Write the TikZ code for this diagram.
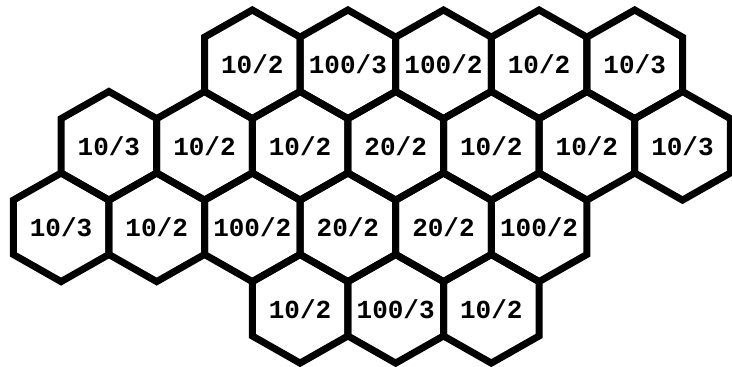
\documentclass[tikz,border=0pt]{standalone}
\usepackage{fontspec}
\setmonofont{Liberation Mono}
\begin{document}
\begin{tikzpicture}[x=1pt,y=-1pt,
  hexline/.style={draw=black,line width=7pt,line join=miter},
  lbl/.style={font=\ttfamily\bfseries\fontsize{26}{29}\selectfont,inner sep=0pt}]
\useasboundingbox[fill=white] (0,0) rectangle (732,367);
\def\ha{47.8}\def\hv{54.3}\def\hs{27.15}
\foreach \k/\r/\t/\n in {
  4/0/10\slash 2/a1, 6/0/100\slash 3/a2, 8/0/100\slash 2/a3, 10/0/10\slash 2/a4, 12/0/10\slash 3/a5,
  1/1/10\slash 3/b1, 3/1/10\slash 2/b2, 5/1/10\slash 2/b3, 7/1/20\slash 2/b4, 9/1/10\slash 2/b5, 11/1/10\slash 2/b6, 13/1/10\slash 3/b7,
  0/2/10\slash 3/c1, 2/2/10\slash 2/c2, 4/2/100\slash 2/c3, 6/2/20\slash 2/c4, 8/2/20\slash 2/c5, 10/2/100\slash 2/c6,
  5/3/10\slash 2/d1, 7/3/100\slash 3/d2, 9/3/10\slash 2/d3}{
  \pgfmathsetmacro\cx{61.1+47.8*\k}
  \pgfmathsetmacro\cy{64.3+81.5*\r}
  \draw[hexline] (\cx,\cy-\hv) -- (\cx+\ha,\cy-\hs) -- (\cx+\ha,\cy+\hs) -- (\cx,\cy+\hv)
     -- (\cx-\ha,\cy+\hs) -- (\cx-\ha,\cy-\hs) -- cycle;
  \node[lbl] (\n) at (\cx,\cy) {\t};
}
\end{tikzpicture}
\end{document}
